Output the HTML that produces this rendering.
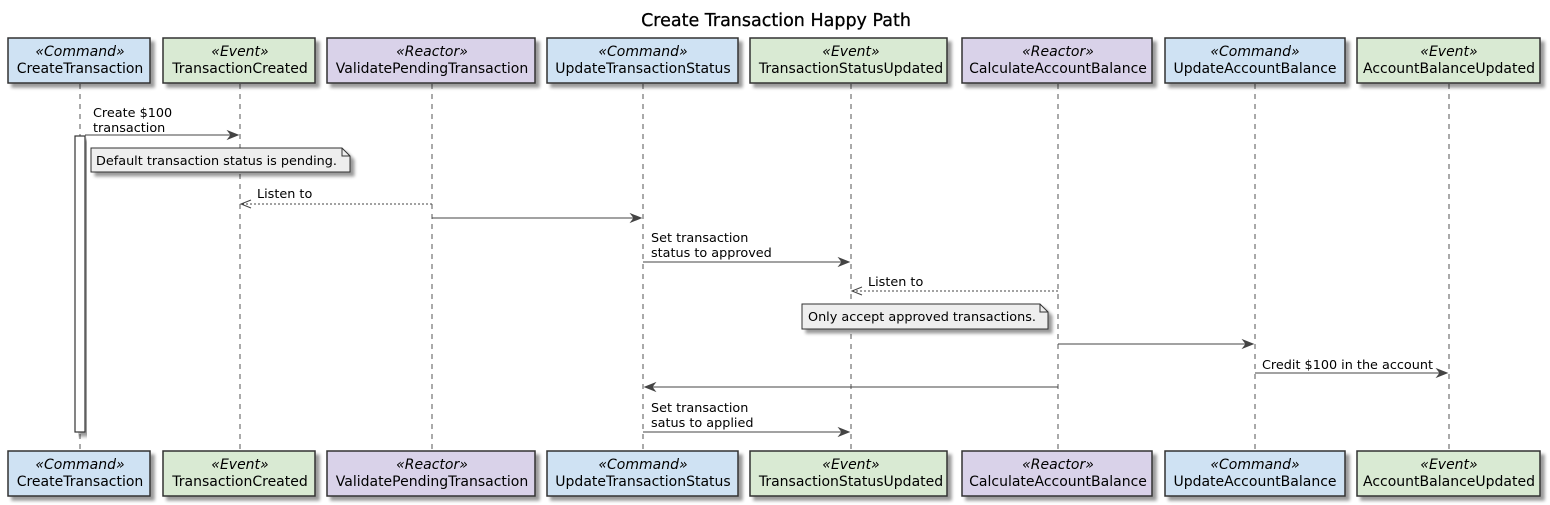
<!DOCTYPE html>
<html><head><meta charset="utf-8"><style>body{margin:0;background:#fff}svg{display:block}</style></head><body>
<svg width="1550" height="505" xmlns="http://www.w3.org/2000/svg" font-family="DejaVu Sans, Liberation Sans, sans-serif" font-size="12.8">
<defs>
<filter id="sh" x="-10%" y="-10%" width="130%" height="150%"><feGaussianBlur in="SourceAlpha" stdDeviation="1.5"/><feOffset dx="4" dy="4"/><feComponentTransfer><feFuncA type="linear" slope="0.4"/></feComponentTransfer><feMerge><feMergeNode/><feMergeNode in="SourceGraphic"/></feMerge></filter>
</defs>
<text x="776" y="26" text-anchor="middle" font-size="17.5" fill="#000" stroke="#000" stroke-width="0.3">Create Transaction Happy Path</text>
<g stroke="#555" stroke-dasharray="5,5" stroke-width="1">
<line x1="80" y1="84" x2="80" y2="450"/><line x1="240" y1="84" x2="240" y2="450"/><line x1="432" y1="84" x2="432" y2="450"/><line x1="643" y1="84" x2="643" y2="450"/><line x1="851" y1="84" x2="851" y2="450"/><line x1="1058" y1="84" x2="1058" y2="450"/><line x1="1255" y1="84" x2="1255" y2="450"/><line x1="1449" y1="84" x2="1449" y2="450"/>
</g>
<g stroke="#333" stroke-width="1.5" filter="url(#sh)">
<rect x="8" y="38" width="142" height="45" fill="#cfe2f3"/><rect x="163" y="38" width="152" height="45" fill="#d9ead3"/><rect x="327" y="38" width="208" height="45" fill="#d9d2e9"/><rect x="547" y="38" width="191" height="45" fill="#cfe2f3"/><rect x="750" y="38" width="197" height="45" fill="#d9ead3"/><rect x="962" y="38" width="190" height="45" fill="#d9d2e9"/><rect x="1165" y="38" width="180" height="45" fill="#cfe2f3"/><rect x="1357" y="38" width="183" height="45" fill="#d9ead3"/>
<rect x="8" y="451" width="142" height="45" fill="#cfe2f3"/><rect x="163" y="451" width="152" height="45" fill="#d9ead3"/><rect x="327" y="451" width="208" height="45" fill="#d9d2e9"/><rect x="547" y="451" width="191" height="45" fill="#cfe2f3"/><rect x="750" y="451" width="197" height="45" fill="#d9ead3"/><rect x="962" y="451" width="190" height="45" fill="#d9d2e9"/><rect x="1165" y="451" width="180" height="45" fill="#cfe2f3"/><rect x="1357" y="451" width="183" height="45" fill="#d9ead3"/>
</g>
<g text-anchor="middle" fill="#000" font-size="14">
<g font-style="italic">
<text x="80" y="56">«Command»</text><text x="240" y="56">«Event»</text><text x="432" y="56">«Reactor»</text><text x="643" y="56">«Command»</text><text x="851" y="56">«Event»</text><text x="1058" y="56">«Reactor»</text><text x="1255" y="56">«Command»</text><text x="1449" y="56">«Event»</text>
<text x="80" y="469">«Command»</text><text x="240" y="469">«Event»</text><text x="432" y="469">«Reactor»</text><text x="643" y="469">«Command»</text><text x="851" y="469">«Event»</text><text x="1058" y="469">«Reactor»</text><text x="1255" y="469">«Command»</text><text x="1449" y="469">«Event»</text>
</g>
<text x="80" y="73">CreateTransaction</text><text x="240" y="73">TransactionCreated</text><text x="432" y="73">ValidatePendingTransaction</text><text x="643" y="73">UpdateTransactionStatus</text><text x="851" y="73">TransactionStatusUpdated</text><text x="1058" y="73">CalculateAccountBalance</text><text x="1255" y="73">UpdateAccountBalance</text><text x="1449" y="73">AccountBalanceUpdated</text>
<text x="80" y="486">CreateTransaction</text><text x="240" y="486">TransactionCreated</text><text x="432" y="486">ValidatePendingTransaction</text><text x="643" y="486">UpdateTransactionStatus</text><text x="851" y="486">TransactionStatusUpdated</text><text x="1058" y="486">CalculateAccountBalance</text><text x="1255" y="486">UpdateAccountBalance</text><text x="1449" y="486">AccountBalanceUpdated</text>
</g>
<rect x="75" y="136" width="10" height="296" fill="#fff" stroke="#333" stroke-width="1.2" filter="url(#sh)"/>
<g stroke="#333" stroke-width="1" filter="url(#sh)">
<path d="M91 148 H342 L350 156 V172 H91 Z" fill="#eee"/><path d="M342 148 V156 H350" fill="none"/>
<path d="M802 304 H1040 L1048 312 V329 H802 Z" fill="#eee"/><path d="M1040 304 V312 H1048" fill="none"/>
</g>
<g fill="#000">
<text x="96" y="165">Default transaction status is pending.</text>
<text x="808" y="321">Only accept approved transactions.</text>
<text x="93" y="117">Create $100</text><text x="93" y="132">transaction</text>
<text x="257" y="198">Listen to</text>
<text x="651" y="242">Set transaction</text><text x="651" y="257">status to approved</text>
<text x="868" y="286">Listen to</text>
<text x="1262" y="369">Credit $100 in the account</text>
<text x="651" y="412">Set transaction</text><text x="651" y="427">satus to applied</text>
</g>
<g stroke="#444" stroke-width="1" fill="#444">
<line x1="85" y1="135" x2="238" y2="135"/><path d="M238 135 L228 131 L231 135 L228 139 Z"/>
<line x1="432" y1="204" x2="241" y2="204" stroke-dasharray="2,2"/><path d="M251 200 L241 204 L251 208" fill="none"/>
<line x1="432" y1="218" x2="641" y2="218"/><path d="M641 218 L631 214 L634 218 L631 222 Z"/>
<line x1="643" y1="262" x2="849" y2="262"/><path d="M849 262 L839 258 L842 262 L839 266 Z"/>
<line x1="1058" y1="291" x2="852" y2="291" stroke-dasharray="2,2"/><path d="M862 287 L852 291 L862 295" fill="none"/>
<line x1="1058" y1="344" x2="1253" y2="344"/><path d="M1253 344 L1243 340 L1246 344 L1243 348 Z"/>
<line x1="1255" y1="373" x2="1447" y2="373"/><path d="M1447 373 L1437 369 L1440 373 L1437 377 Z"/>
<line x1="1058" y1="387" x2="645" y2="387"/><path d="M645 387 L655 383 L652 387 L655 391 Z"/>
<line x1="643" y1="432" x2="849" y2="432"/><path d="M849 432 L839 428 L842 432 L839 436 Z"/>
</g>
</svg>
</body></html>
